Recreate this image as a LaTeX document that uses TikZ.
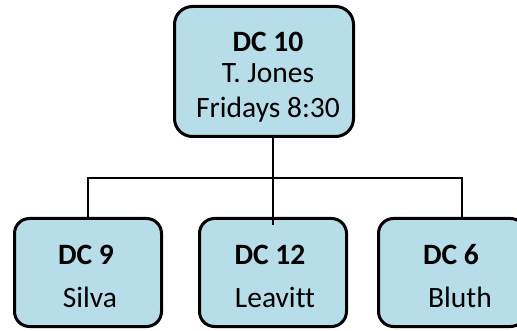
\documentclass[tikz,border=0pt]{standalone}
\usepackage{fontspec}
\setmainfont{Carlito}[Ligatures=NoCommon]
\definecolor{boxfill}{HTML}{B7DEE8}
\begin{document}
\begin{tikzpicture}[x=1pt,y=-1pt,
  box/.style={draw=black, line width=3pt, fill=boxfill, inner sep=0pt},
  conn/.style={draw=black, line width=2pt},
  txt/.style={anchor=base, inner sep=0pt, font=\fontsize{29.5}{33}\selectfont}]
\useasboundingbox (0,0) rectangle (517,331);
\clip (0,0) rectangle (517,331);
% boxes
\node[box, rounded corners=18pt, minimum width=179pt, minimum height=130pt] (top) at (264,71.5) {};
\node[box, rounded corners=15pt, minimum width=147pt, minimum height=108pt] (left) at (88,272.5) {};
\node[box, rounded corners=15pt, minimum width=147pt, minimum height=108pt] (mid) at (273,272.5) {};
\node[box, rounded corners=15pt, minimum width=147pt, minimum height=108pt] (right) at (452,272.5) {};
% texts
\node[txt] (t1) at (268,52) {\textbf{DC 10}};
\node[txt] (t2) at (268,83) {T. Jones};
\node[txt] (t3) at (268,118) {Fridays 8:30};
\node[txt] (l1) at (86,265) {\textbf{DC 9}};
\node[txt] (l2) at (90,308) {Silva};
\node[txt] (m1) at (270,265) {\textbf{DC 12}};
\node[txt] (m2) at (275,308) {Leavitt};
\node[txt] (r1) at (451,265) {\textbf{DC 6}};
\node[txt] (r2) at (460,308) {Bluth};
% connectors
\coordinate (hr) at (462,178);
\draw[conn] (left.north) |- (hr) -- (hr |- right.north);
\draw[conn] (top.south -| mid.north) -- ([yshift=-8pt]mid.north);
\end{tikzpicture}
\end{document}
